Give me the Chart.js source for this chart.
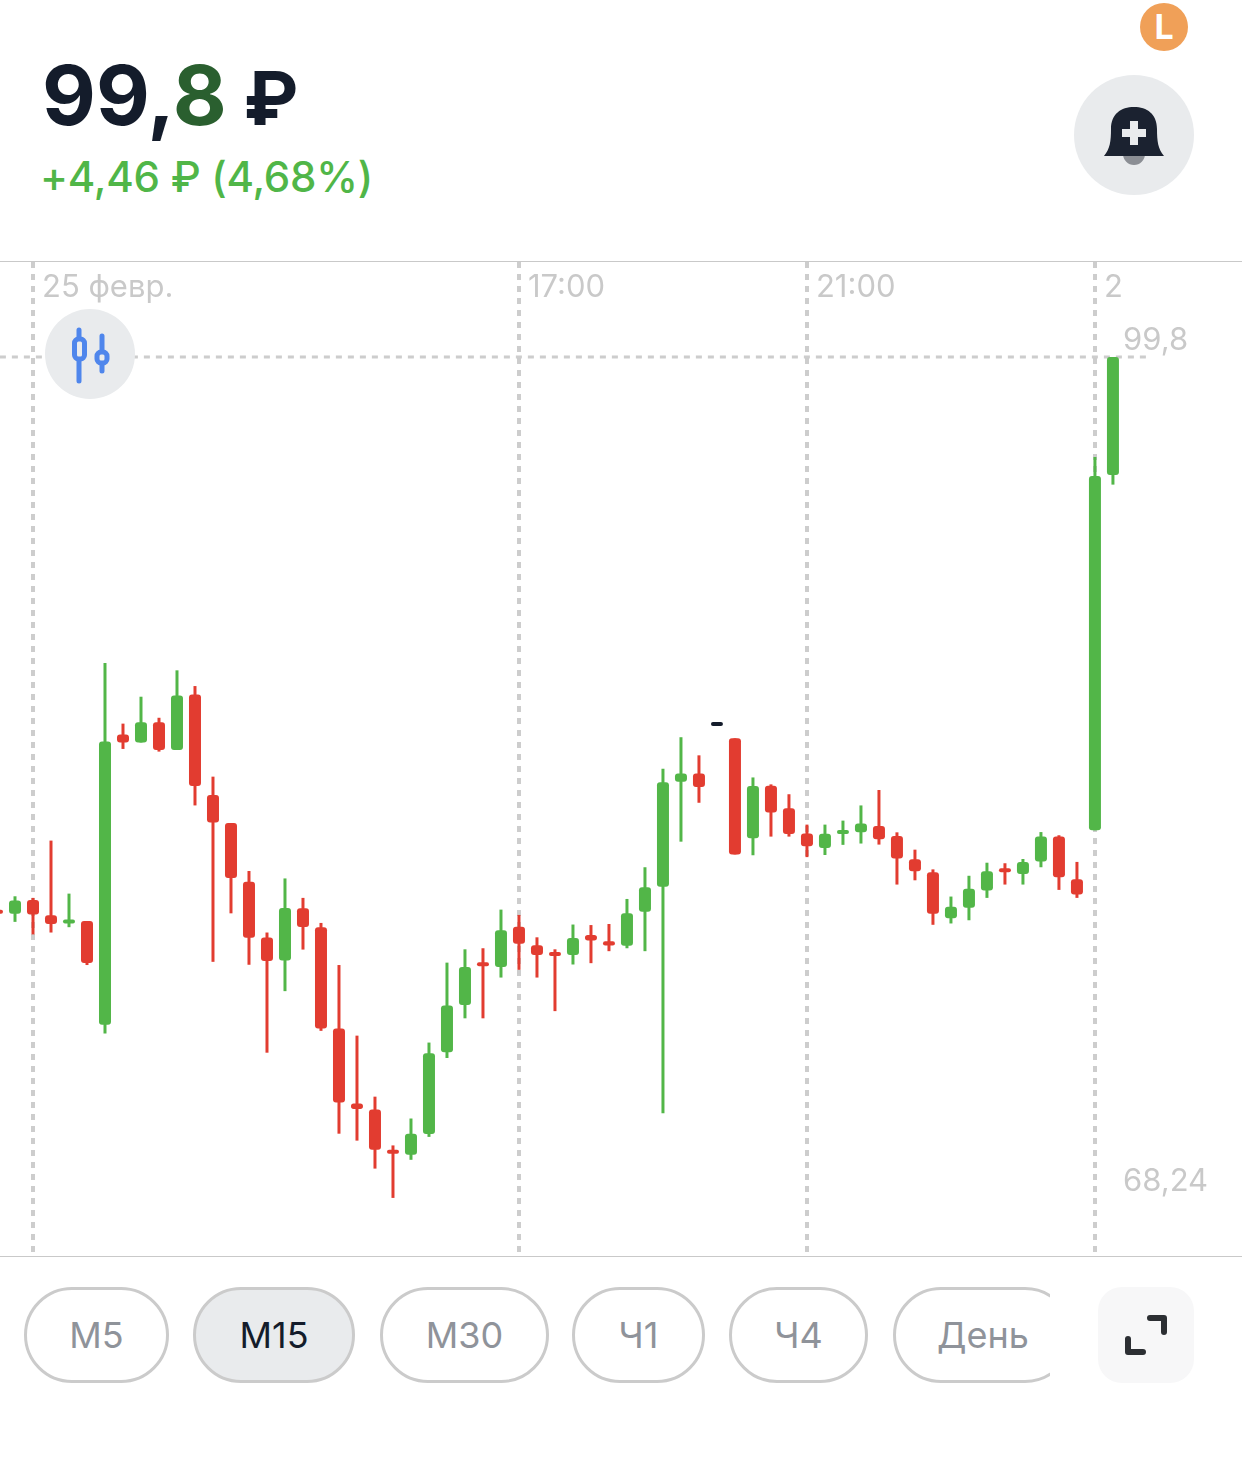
<!DOCTYPE html>
<html lang="ru">
<head>
  <meta charset="UTF-8">
  <title>99,8 ₽</title>
  <script src="https://cdn.jsdelivr.net/npm/chart.js"></script>
  <style>
    body {
      margin: 0;
      background: #fff;
      font-family: Inter, Roboto, sans-serif;
      overflow: hidden;
    }
    #page { position: relative; width: 1242px; height: 1474px; }
    #page > * { position: absolute; }
    #price { left: 42px; top: 45px; font-size: 83px; font-weight: 700; line-height: 100px; color: #141c2b; white-space: pre; }
    #price span { color: #2a5f2f; }
    #price small { font-size: 74px; margin-left: -3px; }
    #change { left: 40px; top: 151px; font-size: 42px; font-weight: 500; letter-spacing: -0.25px; line-height: 52px; color: #50b648; white-space: pre; }
    #lineTop { left: 0; top: 261px; width: 1242px; height: 1px; background: #c9c9c9; }
    #lineBottom { left: 0; top: 1256px; width: 1242px; height: 1px; background: #c9c9c9; }
    #chartBox { left: 0; top: 262px; width: 1242px; height: 990px; }
    .circle { border-radius: 50%; background: #e9ebed; }
    #badge { left: 1140px; top: 3px; width: 48px; height: 48px; background: #f0a058; color: #fff; font-size: 34px; font-weight: 700; line-height: 48px; text-align: center; }
    #bell { left: 1074px; top: 75px; width: 120px; height: 120px; }
    #typeBtn { left: 45px; top: 309px; width: 90px; height: 90px; }
    .tf { box-sizing: border-box; top: 1287px; height: 96px; border: 3px solid #cbcbcb; border-radius: 48px; font-size: 36px; line-height: 90px; text-align: center; color: #8f939a; }
    .tf.on { background: #e9ebed; color: #141c2b; }
    #dayClip { left: 893px; top: 1287px; width: 157px; height: 96px; overflow: hidden; }
    #dayClip .tf { position: absolute; left: 0; top: 0; width: 180px; text-align: left; padding-left: 41px; }
    #expand { left: 1098px; top: 1287px; width: 96px; height: 96px; border-radius: 24px; background: #f7f7f8; }
  </style>
</head>
<body>
<div id="page">
  <div id="price">99,<span>8</span> <small>₽</small></div>
  <div id="change">+4,46 ₽ (4,68%)</div>
  <div id="badge" class="circle">L</div>
  <div id="bell" class="circle">
    <svg width="120" height="120" viewBox="0 0 120 120">
      <circle cx="60" cy="79" r="11" fill="#8b8e94"/>
      <path d="M30 81 C36 74 37 66 37 54 C37 39 47 32 60 32 C73 32 83 39 83 54 C83 66 84 74 90 81 Z" fill="#1b2230"/>
      <path d="M56 46 h8 v8 h8 v8 h-8 v8 h-8 v-8 h-8 v-8 h8 Z" fill="#e9ebed"/>
    </svg>
  </div>

  <div id="lineTop"></div>
  <div id="chartBox"><canvas id="chart" width="1242" height="990"></canvas></div>
  <div id="lineBottom"></div>

  <div id="typeBtn" class="circle">
    <svg width="90" height="90" viewBox="0 0 90 90" fill="none" stroke="#4f86ec" stroke-width="5" stroke-linecap="round">
      <path d="M34 21 V72 M57 27 V62"/>
      <rect x="29.5" y="30" width="10" height="20" rx="4" fill="#e9ebed"/>
      <rect x="52" y="43" width="10" height="11" rx="4" fill="#e9ebed"/>
    </svg>
  </div>

  <div class="tf" style="left:24px;width:145px">М5</div>
  <div class="tf on" style="left:193px;width:162px">М15</div>
  <div class="tf" style="left:380px;width:169px">М30</div>
  <div class="tf" style="left:572px;width:133px">Ч1</div>
  <div class="tf" style="left:729px;width:139px">Ч4</div>
  <div id="dayClip"><div class="tf">День</div></div>
  <div id="expand">
    <svg width="96" height="96" viewBox="0 0 96 96" fill="none" stroke="#2c2f33" stroke-width="6" stroke-linecap="round" stroke-linejoin="round">
      <path d="M52 31 H66 V45 M30 52 V65 H45"/>
    </svg>
  </div>
</div>

<script>
  // свечи М15, значения
  const candleIndex = [0,1,2,3,4,5,6,7,8,9,10,11,12,13,14,15,16,17,18,19,20,21,22,23,24,25,26,27,28,29,30,
    31,32,33,34,35,36,37,38,39,40,41,42,43,44,45,46,47,48,49,50,51,52,53,54,55,56,57,58,59,60,61,62];
  const opens = [79.01,78.90,79.42,78.85,78.54,78.63,74.74,85.63,85.33,86.09,85.05,87.13,83.36,82.31,80.11,78.01,
    77.15,79.11,78.40,74.60,71.78,71.56,70.04,69.86,70.64,73.71,75.48,77.05,76.91,78.42,77.72,
    77.42,77.36,78.11,77.87,77.70,78.98,79.92,83.86,84.17,85.95,85.49,81.74,83.71,82.86,81.92,
    81.37,81.90,81.96,82.20,81.82,80.95,80.46,78.74,79.13,79.78,80.55,80.40,80.87,81.80,80.20,82.04,95.37];
  const highs = [79.01,79.56,79.50,81.65,79.66,78.63,88.32,86.04,87.05,86.26,88.04,87.45,84.05,82.31,80.51,78.20,
    80.23,79.50,78.56,76.98,74.33,72.04,70.21,71.22,74.07,77.07,77.57,77.61,79.06,78.86,78.02,
    77.57,78.50,78.48,78.52,79.46,80.65,84.35,85.53,84.85,85.95,85.49,84.02,83.76,83.39,82.25,
    82.25,82.40,82.97,83.55,81.96,81.31,80.57,79.55,80.33,80.82,80.80,80.96,81.97,81.85,80.85,96.05,99.80];
  const lows = [78.90,78.60,78.13,78.20,78.40,76.98,74.41,85.09,85.33,84.99,85.05,82.97,77.10,78.92,76.99,73.69,
    76.00,77.56,74.51,70.65,70.39,69.34,68.24,69.67,70.53,73.49,74.98,74.98,76.51,76.80,76.51,
    75.25,77.00,77.05,77.50,77.61,77.50,71.42,81.61,83.07,85.95,81.13,81.10,81.80,81.80,81.03,
    81.11,81.49,81.54,81.50,80.00,80.16,78.49,78.54,78.66,79.50,80.00,80.00,80.65,79.80,79.50,82.04,95.01];
  const closes = [78.90,79.40,78.88,78.52,78.65,77.06,85.37,85.33,86.09,85.05,87.10,83.70,82.33,80.25,78.00,77.13,
    79.12,78.41,74.60,71.82,71.58,70.05,69.90,70.65,73.67,75.46,76.91,76.93,78.29,77.78,77.36,
    77.32,77.99,77.90,77.71,78.92,79.90,83.84,84.17,83.66,85.95,81.13,83.70,82.70,81.90,81.44,
    81.91,81.97,82.29,81.70,80.98,80.50,78.90,79.17,79.84,80.50,80.46,80.85,81.80,80.27,79.63,95.33,99.80];

  const timeTicks = [2, 29, 45, 61];
  const timeLabels = ['25 февр.', '17:00', '21:00', '2'];
  const priceTicks = [99.8, 68.24];
  const priceLabels = ['99,8', '68,24'];

  // линия текущей цены
  const lastPriceX = [0.16, 64];
  const lastPriceY = [99.8, 99.8];

  const UP = '#52b648', DOWN = '#e23c30', FLAT = '#141c2b';
  const candleColor = candleIndex.map(i =>
    closes[i] > opens[i] ? UP : closes[i] < opens[i] ? DOWN : FLAT);

  const GRID = '#cdcdcd';
  const LABEL = '#c9c9c9';
  const font = { family: 'Inter, Roboto, sans-serif', size: 31 };

  // оси лежат внутри области графика и места не занимают
  function noSpaceX(scale) {
    scale.height = 0;
    scale.paddingLeft = scale.paddingRight = 0;
  }
  function noSpaceY(scale) {
    scale.width = 0;
    scale.paddingTop = scale.paddingBottom = 0;
  }

  new Chart(document.getElementById('chart'), {
    type: 'bar',
    data: {
      datasets: [
        {
          type: 'line',
          data: lastPriceX.map((x, i) => ({ x, y: lastPriceY[i] })),
          borderColor: GRID,
          borderWidth: 3,
          borderDash: [6, 6],
          pointRadius: 0,
          order: 3
        },
        {
          data: candleIndex.map(i => ({ x: i, y: [lows[i], highs[i]] })),
          backgroundColor: candleColor,
          barThickness: 3,
          grouped: false,
          inflateAmount: 0,
          order: 2
        },
        {
          data: candleIndex.map(i => ({ x: i, y: [opens[i], closes[i]] })),
          backgroundColor: candleColor,
          barThickness: 12,
          borderRadius: 3,
          borderSkipped: false,
          grouped: false,
          inflateAmount: 0,
          minBarLength: 4,
          order: 1
        }
      ]
    },
    options: {
      responsive: false,
      animation: false,
      layout: { padding: 0 },
      plugins: { legend: { display: false }, tooltip: { enabled: false } },
      scales: {
        x: {
          type: 'linear',
          position: 'top',
          min: 1 / 6,
          max: 69.17,
          offset: false,
          afterBuildTicks: s => { s.ticks = timeTicks.map(value => ({ value })); },
          afterFit: noSpaceX,
          grid: { offset: false, color: GRID, lineWidth: 4, drawTicks: false },
          border: { display: false, dash: [6, 6] },
          ticks: {
            callback: v => timeLabels[timeTicks.indexOf(v)],
            autoSkip: false,
            maxRotation: 0,
            mirror: true,
            align: 'start',
            padding: 7,
            labelOffset: 9,
            color: LABEL,
            font
          }
        },
        y: {
          type: 'linear',
          position: 'left',
          min: 66.21,
          max: 103.365,
          afterBuildTicks: s => { s.ticks = priceTicks.map(value => ({ value })); },
          afterFit: noSpaceY,
          grid: { display: false },
          border: { display: false },
          ticks: {
            callback: v => priceLabels[priceTicks.indexOf(v)],
            autoSkip: false,
            mirror: true,
            padding: 1123,
            labelOffset: -16,
            color: LABEL,
            font
          }
        }
      }
    }
  });
</script>
</body>
</html>
